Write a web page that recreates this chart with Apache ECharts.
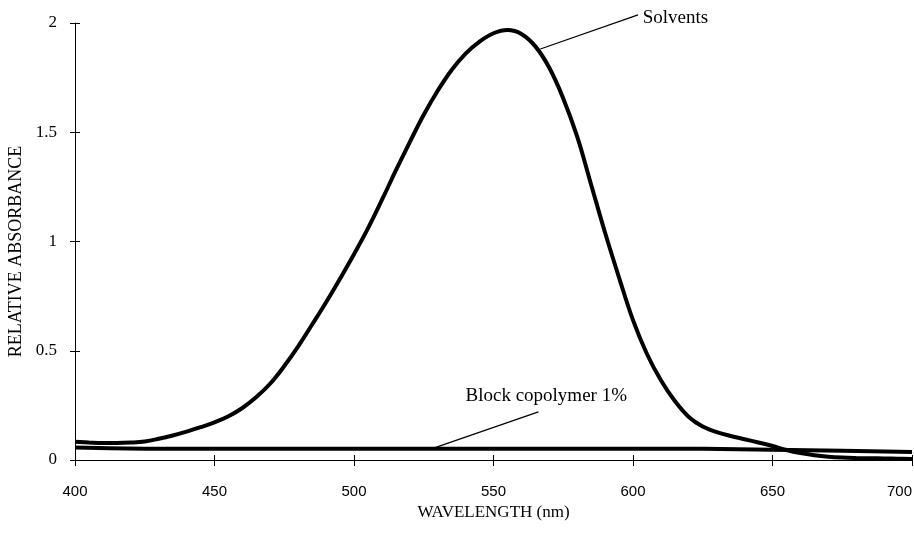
<!DOCTYPE html>
<html>
<head>
<meta charset="utf-8">
<script src="https://cdn.jsdelivr.net/npm/echarts@6/dist/echarts.min.js"></script>
<style>
  html, body { margin: 0; padding: 0; background: #fff; }
  #chart { width: 914px; height: 533px; }
</style>
</head>
<body>
<div id="chart"></div>
<script>
// Wavelength grid (nm)
const wavelengths = [400,405,410,415,420,425,430,435,440,445,450,455,460,465,470,475,480,485,490,495,
  500,505,510,515,520,525,530,535,540,545,550,555,560,565,570,575,580,585,590,595,
  600,605,610,615,620,625,630,635,640,645,650,655,660,665,670,675,680,685,690,695,700];

// Relative absorbance of the dye in solvents
const solvents = [0.083,0.080,0.078,0.078,0.080,0.085,0.097,0.112,0.130,0.150,0.172,0.200,0.238,0.288,0.350,0.430,0.520,0.620,0.722,0.830,
  0.942,1.060,1.190,1.325,1.455,1.580,1.690,1.785,1.860,1.915,1.953,1.968,1.950,1.893,1.795,1.655,1.480,1.260,1.040,0.835,
  0.640,0.485,0.365,0.270,0.197,0.153,0.128,0.110,0.095,0.080,0.064,0.046,0.032,0.022,0.015,0.011,0.009,0.008,0.007,0.006,0.005];

// Relative absorbance with 1% block copolymer
const blockWavelengths = [400,425,450,500,550,600,625,650,675,700];
const blockCopolymer = [0.057,0.052,0.051,0.051,0.052,0.052,0.051,0.047,0.042,0.037];

// Axis ranges and labels
const xRange = [400, 700, 50];
const yRange = [0, 2, 0.5];
const xTitle = 'WAVELENGTH (nm)';
const yTitle = 'RELATIVE ABSORBANCE';

// Curve annotations: label text, label anchor, leader line from curve to label
const solventsNote = { text: 'Solvents', at: [603.5, 2.022], from: [566.8, 1.881], to: [601.8, 2.037] };
const blockNote = { text: 'Block copolymer 1%', at: [568.9, 0.293], from: [529.3, 0.058], to: [566.1, 0.220] };

const serif = '"Liberation Serif", "Times New Roman", serif';
const sans = '"Liberation Sans", Arial, sans-serif';

function zip(xs, ys) { return xs.map((x, i) => [x, ys[i]]); }

const axisLine = { show: true, onZero: false, lineStyle: { color: '#000', width: 1 } };

const chart = echarts.init(document.getElementById('chart'), null, { renderer: 'canvas' });

chart.setOption({
  animation: false,
  backgroundColor: '#fff',
  grid: { left: 75, right: 2, top: 23, bottom: 73, outerBoundsMode: 'none', containLabel: false },
  xAxis: [
    {
      type: 'value', min: xRange[0], max: xRange[1], interval: xRange[2],
      axisLine: axisLine,
      axisTick: { show: true, inside: false, length: 6, lineStyle: { color: '#000' } },
      axisLabel: { color: '#000', fontFamily: sans, fontSize: 15, margin: 24, alignMaxLabel: 'right' },
      splitLine: { show: false },
      name: xTitle, nameLocation: 'middle', nameGap: 42,
      nameTextStyle: { color: '#000', fontFamily: serif, fontSize: 17 }
    },
    {
      type: 'value', min: xRange[0], max: xRange[1], interval: xRange[2], position: 'bottom',
      axisLine: { show: false },
      axisTick: { show: true, inside: true, length: 5, lineStyle: { color: '#000' } },
      axisLabel: { show: false }, splitLine: { show: false }
    }
  ],
  yAxis: [
    {
      type: 'value', min: yRange[0], max: yRange[1], interval: yRange[2],
      axisLine: axisLine,
      axisTick: { show: true, inside: false, length: 5, lineStyle: { color: '#000' } },
      axisLabel: { color: '#000', fontFamily: serif, fontSize: 17, margin: 18 },
      splitLine: { show: false },
      name: yTitle, nameLocation: 'middle', nameGap: 48, nameRotate: 90,
      nameTextStyle: { color: '#000', fontFamily: serif, fontSize: 18, padding: [0, 20, 0, 0] }
    },
    {
      type: 'value', min: yRange[0], max: yRange[1], interval: yRange[2], position: 'left',
      axisLine: { show: false },
      axisTick: { show: true, inside: true, length: 5, lineStyle: { color: '#000' } },
      axisLabel: { show: false }, splitLine: { show: false }
    }
  ],
  series: [
    {
      name: 'Block copolymer 1%', type: 'line', smooth: true, showSymbol: false, clip: false,
      data: zip(blockWavelengths, blockCopolymer),
      lineStyle: { color: '#000', width: 4 }, itemStyle: { color: '#000' }
    },
    {
      name: 'Solvents', type: 'line', smooth: 0.4, showSymbol: false, clip: false,
      data: zip(wavelengths, solvents),
      lineStyle: { color: '#000', width: 4 }, itemStyle: { color: '#000' }
    }
  ]
});

// Leader lines and labels, placed through the chart's own scales
function annotate(n, align) {
  const p0 = chart.convertToPixel({ gridIndex: 0 }, n.from);
  const p1 = chart.convertToPixel({ gridIndex: 0 }, n.to);
  const pt = chart.convertToPixel({ gridIndex: 0 }, n.at);
  return [
    { type: 'line', silent: true, z: 10,
      shape: { x1: p0[0], y1: p0[1], x2: p1[0], y2: p1[1] },
      style: { stroke: '#000', lineWidth: 1.2 } },
    { type: 'text', silent: true, z: 10, x: pt[0], y: pt[1],
      style: { text: n.text, fill: '#000', font: '19px ' + serif, align: align, verticalAlign: 'middle' } }
  ];
}

chart.setOption({
  graphic: [].concat(annotate(solventsNote, 'left'), annotate(blockNote, 'center'))
});
</script>
</body>
</html>
